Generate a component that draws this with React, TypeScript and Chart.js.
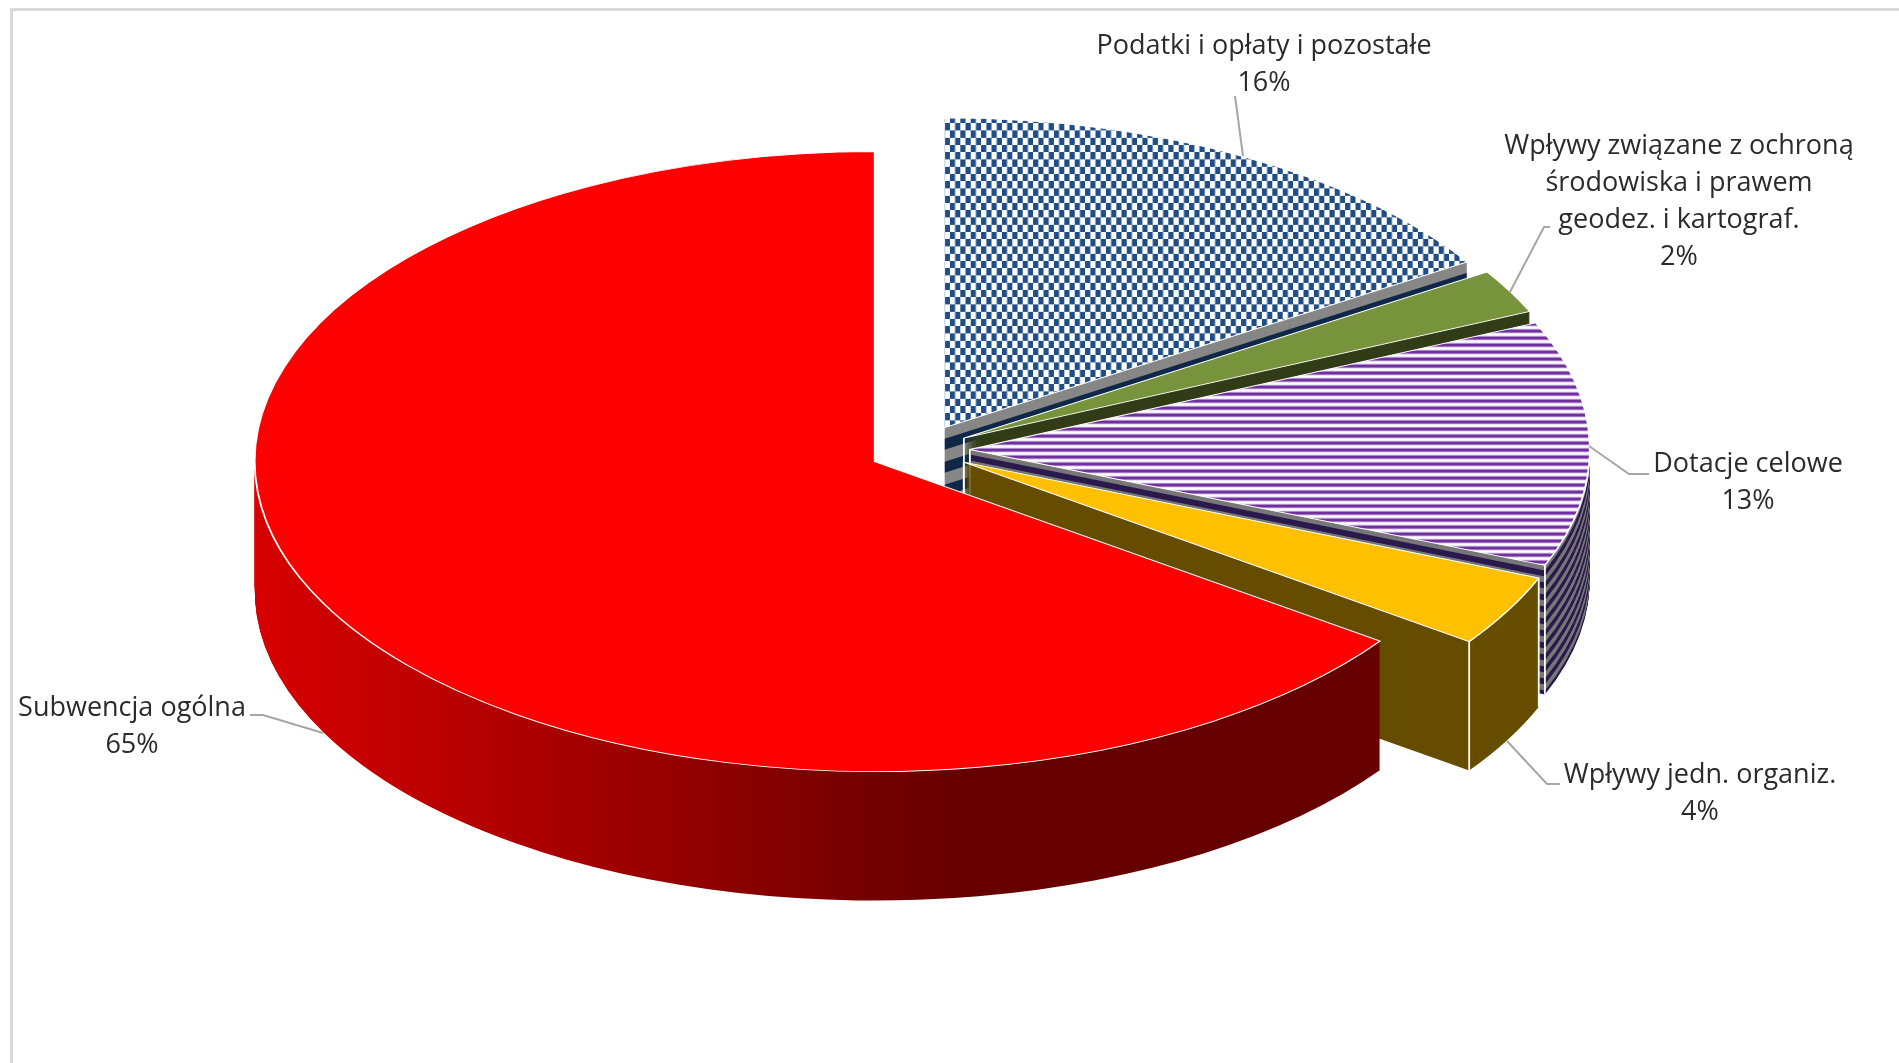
import React, { useEffect, useRef } from "react";
import { Chart, registerables } from "chart.js";

Chart.register(...registerables);

const categories = [
  ["Podatki i opłaty i pozostałe"],
  ["Wpływy związane z ochroną", "środowiska i prawem", "geodez. i kartograf."],
  ["Dotacje celowe"],
  ["Wpływy jedn. organiz."],
  ["Subwencja ogólna"],
];
const shares = [16, 2.3, 12.8, 3.73, 65.17];

const FLATTEN = 0.5;
const DEPTH = 129;
const EXPLODE = 50.4;
const RADIUS = 620;

const labelCentres = [
  [1264, 46],
  [1679, 146],
  [1748, 464],
  [1700, 775],
  [132, 708],
];
const LINE_HEIGHT = 37;
const leaders = [
  [[1235, 96], [1243, 156]],
  [[1550, 227], [1544, 227], [1510, 292]],
  [[1649, 474], [1629, 474], [1589, 446]],
  [[1560, 784], [1547, 784], [1507, 741]],
  [[250, 715], [263, 715], [323, 733]],
];

function tile(w: number, h: number, paint: (c: CanvasRenderingContext2D) => void) {
  const t = document.createElement("canvas");
  t.width = w;
  t.height = h;
  const c = t.getContext("2d")!;
  c.fillStyle = "#ffffff";
  c.fillRect(0, 0, w, h);
  paint(c);
  return t;
}

function App() {
  const ref = useRef<HTMLCanvasElement>(null);
  useEffect(() => {
    const canvas = ref.current!;
    const ctx0 = canvas.getContext("2d")!;
    const checker = ctx0.createPattern(
      tile(11, 30, (c) => {
        c.fillStyle = "#1f4e86";
        c.fillRect(0, 0, 5.5, 15);
        c.fillRect(5.5, 15, 5.5, 15);
      }),
      "repeat"
    )!;
    checker.setTransform(new DOMMatrix().scale(10.4 / 11, 29 / 30));
    const stripes = ctx0.createPattern(
      tile(4, 14, (c) => {
        c.fillStyle = "#7030a0";
        c.fillRect(0, 0, 4, 6);
        c.fillStyle = "#dccbea";
        c.fillRect(0, 6, 4, 2);
        c.fillRect(0, 12, 4, 2);
      }),
      "repeat"
    )!;
    const redWall = ctx0.createLinearGradient(300, 0, 1010, 0);
    redWall.addColorStop(0, "#d80000");
    redWall.addColorStop(1, "#660000");

    const tops = [checker, "#77933c", stripes, "#ffc000", "#ff0000"];
    const wallColour = (i: number, d: number) => {
      if (i === 0) return Math.floor(d / 11.5) % 2 === 0 ? "#878787" : "#10294a";
      if (i === 1) return "#323d18";
      if (i === 2) return Math.floor(d / 6) % 2 === 0 ? "#777777" : "#2b1a4e";
      if (i === 3) return "#664d00";
      return redWall;
    };

    const depthPlugin = {
      id: "depthPie",
      beforeDatasetsDraw(chart: any) {
        const ctx = chart.ctx as CanvasRenderingContext2D;
        const arcs = chart.getDatasetMeta(0).data as any[];
        const place = (arc: any, d: number) => {
          const mid = (arc.startAngle + arc.endAngle) / 2;
          ctx.translate(0, d);
          ctx.translate(0, arc.y);
          ctx.scale(1, FLATTEN);
          ctx.translate(0, -arc.y);
          ctx.translate(Math.cos(mid) * EXPLODE, Math.sin(mid) * EXPLODE);
        };
        arcs.forEach((arc, i) => {
          const saved = arc.options;
          for (let d = DEPTH; d >= 1; d--) {
            ctx.save();
            place(arc, d);
            arc.options = { ...saved, backgroundColor: wallColour(i, d), borderWidth: 0 };
            arc.draw(ctx);
            ctx.restore();
          }
          if (i < 4) {
            const mid = (arc.startAngle + arc.endAngle) / 2;
            const ox = arc.x + Math.cos(mid) * EXPLODE;
            const oy = arc.y + Math.sin(mid) * EXPLODE * FLATTEN;
            const edge = (x: number, y: number) => {
              ctx.beginPath();
              ctx.moveTo(x, y);
              ctx.lineTo(x, y + DEPTH);
              ctx.stroke();
            };
            ctx.save();
            ctx.strokeStyle = "#ffffff";
            ctx.lineWidth = 1.8;
            edge(ox, oy);
            [arc.startAngle, arc.endAngle]
              .filter((a: number) => Math.sin(a) > 0)
              .forEach((a: number) =>
                edge(ox + Math.cos(a) * arc.outerRadius, oy + Math.sin(a) * arc.outerRadius * FLATTEN)
              );
            ctx.restore();
          }
          ctx.save();
          place(arc, 0);
          arc.options = saved;
          arc.draw(ctx);
          ctx.restore();
        });
        return false;
      },
      afterDraw(chart: any) {
        const ctx = chart.ctx as CanvasRenderingContext2D;
        ctx.save();
        ctx.strokeStyle = "#a6a6a6";
        ctx.lineWidth = 2;
        leaders.forEach((pts) => {
          ctx.beginPath();
          pts.forEach((p, k) => (k ? ctx.lineTo(p[0], p[1]) : ctx.moveTo(p[0], p[1])));
          ctx.stroke();
        });
        ctx.fillStyle = "#2b2b2b";
        ctx.font = '27px "Open Sans"';
        ctx.textAlign = "center";
        ctx.textBaseline = "middle";
        categories.forEach((lines, i) => {
          const [x, y] = labelCentres[i];
          [...lines, Math.round(shares[i]) + "%"].forEach((t, k) => ctx.fillText(t, x, y + k * LINE_HEIGHT));
        });
        ctx.restore();
      },
    };

    const chart = new Chart(canvas, {
      type: "pie",
      data: {
        labels: categories.map((l) => l.join(" ")),
        datasets: [
          {
            data: shares,
            backgroundColor: tops as any,
            borderColor: "#ffffff",
            borderWidth: 1.8,
            borderJoinStyle: "round",
          },
        ],
      },
      options: {
        responsive: false,
        animation: false,
        radius: RADIUS,
        layout: { padding: { right: 60, bottom: 163 } },
        plugins: { legend: { display: false }, tooltip: { enabled: false } },
      } as any,
      plugins: [depthPlugin as any],
    });
    return () => chart.destroy();
  }, []);

  return (
    <div style={{ position: "absolute", left: 0, top: 0, width: 1899, height: 1063, overflow: "hidden", background: "#fff" }}>
      <div
        style={{
          position: "absolute",
          left: 10,
          top: 8,
          right: 0,
          bottom: 0,
          borderTop: "3px solid #d9d9d9",
          borderLeft: "3px solid #d9d9d9",
        }}
      />
      <canvas ref={ref} width={1899} height={1063} style={{ position: "absolute", left: 0, top: 0, display: "block" }} />
    </div>
  );
}

export default App;
